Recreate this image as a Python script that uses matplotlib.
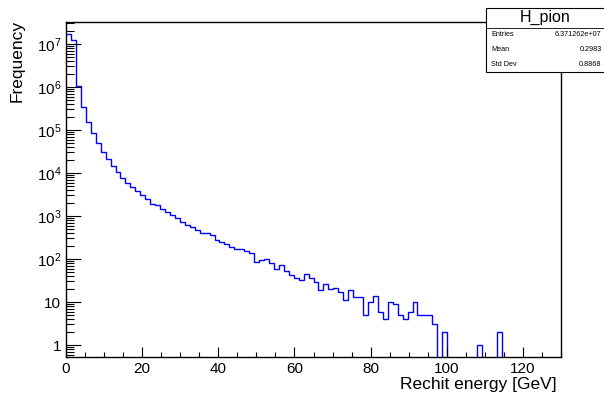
import numpy as np
import matplotlib
matplotlib.use("Agg")
import matplotlib.pyplot as plt
from matplotlib.ticker import LogLocator, FuncFormatter, MultipleLocator, NullFormatter
from matplotlib.patches import Rectangle
from matplotlib.lines import Line2D

plt.rcParams['font.family'] = ['Liberation Sans', 'DejaVu Sans']
plt.rcParams['mathtext.fontset'] = 'custom'
plt.rcParams['mathtext.rm'] = 'Liberation Sans'
plt.rcParams['mathtext.it'] = 'Liberation Sans:italic'

# ---- data ----
x_min, x_max, n_bins = 0.0, 130.0, 100
counts = [
    1.68e7, 1.22e7, 1.04e6, 3.37e5, 1.53e5, 8.4e4, 4.9e4, 3.0e4, 2.08e4, 1.45e4,
    1.04e4, 7800, 5960, 4730, 3810, 3080, 2445, 1935, 1772, 1455,
    1217, 1054, 898, 725, 628, 545, 472, 409, 402, 355,
    277, 248, 219, 190, 171, 168, 155, 138, 87, 95,
    98, 82, 60, 71, 53, 42, 37, 32, 46, 37,
    29, 19, 26, 20, 21, 17, 11, 19, 13, 13,
    5, 10, 14, 6, 4, 10, 9, 5, 4, 6,
    10, 5, 5, 5, 3, 0, 2, 0, 0, 0,
    0, 0, 0, 1, 0, 0, 0, 2, 0, 0,
    0, 0, 0, 0, 0, 0, 0, 0, 0, 0,
]
hist_name = "H_pion"
stat_labels = ["Entries", "Mean", "Std Dev"]
stat_values = ["6.371262e+07", "0.2983", "0.8868"]
x_title = "Rechit energy [GeV]"
y_title = "Frequency"
y_lim = (0.526, 3.25e7)

W, H = 604, 401
fig = plt.figure(figsize=(W / 100, H / 100), dpi=100)
L, R, T, B = 66, 561, 22, 357
ax = fig.add_axes([L / W, 1 - B / H, (R - L) / W, (B - T) / H])

edges = np.linspace(x_min, x_max, n_bins + 1)
ax.stairs(counts, edges, baseline=None, color='#0000ff', lw=1.0)
ax.set_yscale('log', nonpositive='clip')
ax.set_xlim(x_min, x_max)
ax.set_ylim(*y_lim)

for s in ax.spines.values():
    s.set_linewidth(1.0)
    s.set_color('black')

ax.xaxis.set_major_locator(MultipleLocator(20))
ax.xaxis.set_minor_locator(MultipleLocator(5))
ax.yaxis.set_major_locator(LogLocator(base=10, numticks=20))
ax.yaxis.set_minor_locator(LogLocator(base=10, subs=np.arange(2, 10), numticks=50))
ax.yaxis.set_minor_formatter(NullFormatter())


def yfmt(v, pos):
    e = int(round(np.log10(v)))
    if e == 0:
        return "1"
    if e == 1:
        return "10"
    return r"$10^{%d}$" % e


ax.yaxis.set_major_formatter(FuncFormatter(yfmt))
ax.tick_params(axis='x', which='major', direction='in', length=7.2, width=0.8,
               labelsize=11, pad=3.5, top=False)
ax.tick_params(axis='x', which='minor', direction='in', length=3.6, width=0.8, top=False)
ax.tick_params(axis='y', which='major', direction='in', length=10.7, width=0.8,
               labelsize=11, pad=3.5, right=False)
ax.tick_params(axis='y', which='minor', direction='in', length=5.4, width=0.8, right=False)

fig.text(557 / W, 1 - 385 / H, x_title, ha='right', va='center', fontsize=12.5)
fig.text(17 / W, 1 - 20 / H, y_title, ha='center', va='top', rotation=90, fontsize=12.5)

# stats box
bx0, bx1, by0, by1, bsep = 486, 610, 8, 72, 28
fig.patches.append(Rectangle((bx0 / W, 1 - by1 / H), (bx1 - bx0) / W, (by1 - by0) / H,
                             transform=fig.transFigure, facecolor='white',
                             edgecolor='black', lw=0.8, zorder=5))
fig.lines.append(Line2D([bx0 / W, 1.0], [1 - bsep / H, 1 - bsep / H],
                        transform=fig.transFigure, color='black', lw=0.6, zorder=6))
fig.text((bx0 + 604) / 2 / W, 1 - 17.5 / H, hist_name, ha='center', va='center',
         fontsize=11.5, zorder=7)
row_y = [34.5, 49.5, 64.5]
for lab, val, yy in zip(stat_labels, stat_values, row_y):
    fig.text(491 / W, 1 - yy / H, lab, ha='left', va='center', fontsize=5.2, zorder=7)
    fig.text(601.5 / W, 1 - yy / H, val, ha='right', va='center', fontsize=5.2, zorder=7)

fig.savefig("out.png", dpi=100)
